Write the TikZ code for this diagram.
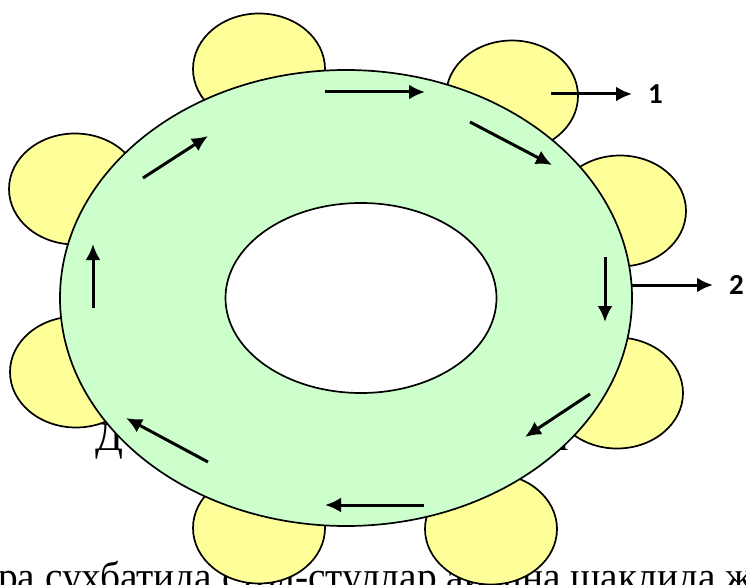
\documentclass[tikz,border=0pt]{standalone}
\usepackage{fontspec}
\setmainfont{Liberation Serif}
\newfontfamily\numfont{Carlito}
\usetikzlibrary{positioning}
\usetikzlibrary{shapes.geometric}
\usetikzlibrary{arrows.meta}
\definecolor{chairyellow}{HTML}{FFFF99}
\definecolor{tablegreen}{HTML}{CCFFCC}
\tikzset{>={Latex[length=16pt,width=15pt]}}
\tikzstyle{chair} = [ellipse, draw=black, line width=1.7pt, fill=chairyellow, minimum width=132pt, minimum height=111pt, inner sep=0pt]
\tikzstyle{ring} = [ellipse, draw=black, line width=1.7pt, inner sep=0pt]
\tikzstyle{flow} = [->, line width=3pt]
\tikzstyle{pagetext} = [inner sep=0pt, anchor=base west, font=\fontsize{41}{48}\selectfont]
\tikzstyle{numlabel} = [inner sep=0pt, font=\numfont\bfseries\fontsize{29}{34}\selectfont]

\begin{document}
\begin{tikzpicture}[x=1pt, y=-1pt]
\useasboundingbox (0,0) rectangle (746,585);

% page text behind the picture
\node [pagetext] (D) at (95,450) {Д};
\node [pagetext] (L) at (548,450) {л};
\node [pagetext, xscale=0.96, transform shape] (txt) at (-2,590) {ра сухбатида стол-стуллар айлана шаклида жойлашади};

% chairs
\node [chair] (C1) at (259,69) {};
\node [chair] (C2) at (512,96) {};
\node [chair] (C3) at (620,211) {};
\node [chair] (C4) at (617,393) {};
\node [chair] (C5) at (491,529) {};
\node [chair] (C6) at (259,528) {};
\node [chair] (C7) at (76,372) {};
\node [chair] (C8) at (75,189) {};

% table
\node [ring, fill=tablegreen, minimum width=572pt, minimum height=456pt] (T) at (346,298) {};
\node [ring, fill=white, minimum width=271pt, minimum height=190pt] (H) at (361,298) {};

% round arrows
\coordinate (a1) at (325,92);  \coordinate (b1) at (425,92);
\coordinate (a2) at (470,122); \coordinate (b2) at (552,165);
\coordinate (a3) at (605,257); \coordinate (b3) at (605,322);
\coordinate (a4) at (590,394); \coordinate (b4) at (525,437);
\coordinate (a5) at (424,505); \coordinate (b5) at (325,505);
\coordinate (a6) at (208,462); \coordinate (b6) at (126,418);
\coordinate (a7) at (93,308);  \coordinate (b7) at (93,244);
\coordinate (a8) at (143,178); \coordinate (b8) at (208,136);
\draw [flow] (a1) -- (b1);
\draw [flow] (a2) -- (b2);
\draw [flow] (a3) -- (b3);
\draw [flow] (a4) -- (b4);
\draw [flow] (a5) -- (b5);
\draw [flow] (a6) -- (b6);
\draw [flow] (a7) -- (b7);
\draw [flow] (a8) -- (b8);

% labels
\coordinate (s1) at (551,94);  \coordinate (e1) at (632,94);
\coordinate (s2) at (632,285); \coordinate (e2) at (713,285);
\node [numlabel, right=16pt of e1] (one) {1};
\node [numlabel, right=16pt of e2] (two) {2};
\draw [flow] (s1) -- (e1);
\draw [flow] (s2) -- (e2);
\end{tikzpicture}
\end{document}
